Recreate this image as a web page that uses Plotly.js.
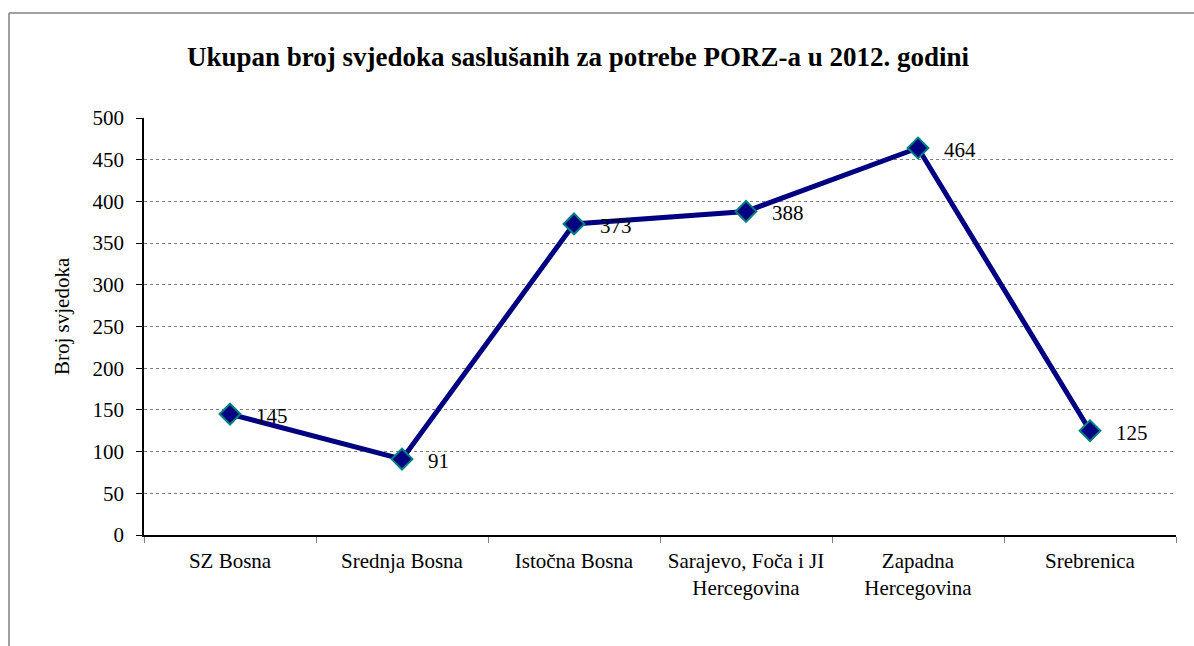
<!DOCTYPE html>
<html>
<head>
<meta charset="utf-8">
<script src="https://cdn.plot.ly/plotly-3.0.1.min.js"></script>
<style>
html,body{margin:0;padding:0;background:#fff;}
#chart{width:1194px;height:646px;}
</style>
</head>
<body>
<div id="chart"></div>
<script>
const categories = ["SZ Bosna", "Srednja Bosna", "Istočna Bosna", "Sarajevo, Foča i JI<br>Hercegovina", "Zapadna<br>Hercegovina", "Srebrenica"];
const values = [145, 91, 373, 388, 464, 125];
const yTicks = [0, 50, 100, 150, 200, 250, 300, 350, 400, 450, 500];

const W = 1194, H = 646;
const M = {l: 144, r: 18, t: 118, b: 111};
const pw = W - M.l - M.r, ph = H - M.t - M.b;
const px = x => (x - M.l) / pw;
const py = y => (H - M.b - y) / ph;

const font = "Liberation Serif";

const trace = {
  x: categories,
  y: values,
  type: "scatter",
  mode: "lines+markers",
  line: {color: "#000080", width: 5},
  marker: {symbol: "diamond", size: 16, color: "#000080", line: {color: "#008080", width: 2}},
  hoverinfo: "x+y",
  cliponaxis: false
};

const annotations = values.map((v, i) => ({
  x: categories[i], y: v, xref: "x", yref: "y",
  text: String(v), showarrow: false,
  xanchor: "left", yanchor: "middle",
  xshift: 24, yshift: -2,
  font: {family: font, size: 21, color: "#000"}
}));
annotations.push({
  text: "Broj svjedoka", showarrow: false, textangle: -90,
  xref: "paper", yref: "paper", x: px(62), y: py(316),
  xanchor: "center", yanchor: "middle",
  font: {family: font, size: 21, color: "#000"}
});

const layout = {
  width: W, height: H,
  margin: M,
  paper_bgcolor: "#fff",
  plot_bgcolor: "#fff",
  showlegend: false,
  font: {family: font, size: 21, color: "#000"},
  title: {
    text: "<b>Ukupan broj svjedoka saslušanih za potrebe PORZ-a u 2012. godini</b>",
    font: {family: font, size: 27, color: "#000"},
    xref: "container", x: 578 / W, xanchor: "center",
    yref: "container", y: 1 - 57 / H, yanchor: "middle"
  },
  xaxis: {
    type: "category",
    tickson: "boundaries",
    ticks: "outside", ticklen: 6, tickcolor: "#808080", tickwidth: 1,
    ticklabelstandoff: 6,
    showline: true, linecolor: "#000", linewidth: 1.5,
    showgrid: false, zeroline: false,
    tickfont: {family: font, size: 21, color: "#000"},
    range: [-0.5, 5.5]
  },
  yaxis: {
    range: [0, 500],
    tickvals: yTicks,
    ticks: "outside", ticklen: 6, tickcolor: "#000", tickwidth: 1,
    ticklabelstandoff: 8,
    showline: true, linecolor: "#000", linewidth: 1.5,
    showgrid: true, gridcolor: "#7f7f7f", gridwidth: 1, griddash: "dot",
    zeroline: false,
    tickfont: {family: font, size: 21, color: "#000"}
  },
  annotations: annotations,
  shapes: [
    {type: "line", xref: "paper", yref: "paper", x0: px(9), x1: px(9), y0: py(13), y1: py(646), line: {color: "#808080", width: 1.5}, layer: "below"},
    {type: "line", xref: "paper", yref: "paper", x0: px(9), x1: px(1194), y0: py(13), y1: py(13), line: {color: "#808080", width: 1.5}, layer: "below"}
  ]
};

Plotly.newPlot("chart", [trace], layout, {displayModeBar: false});
</script>
</body>
</html>
